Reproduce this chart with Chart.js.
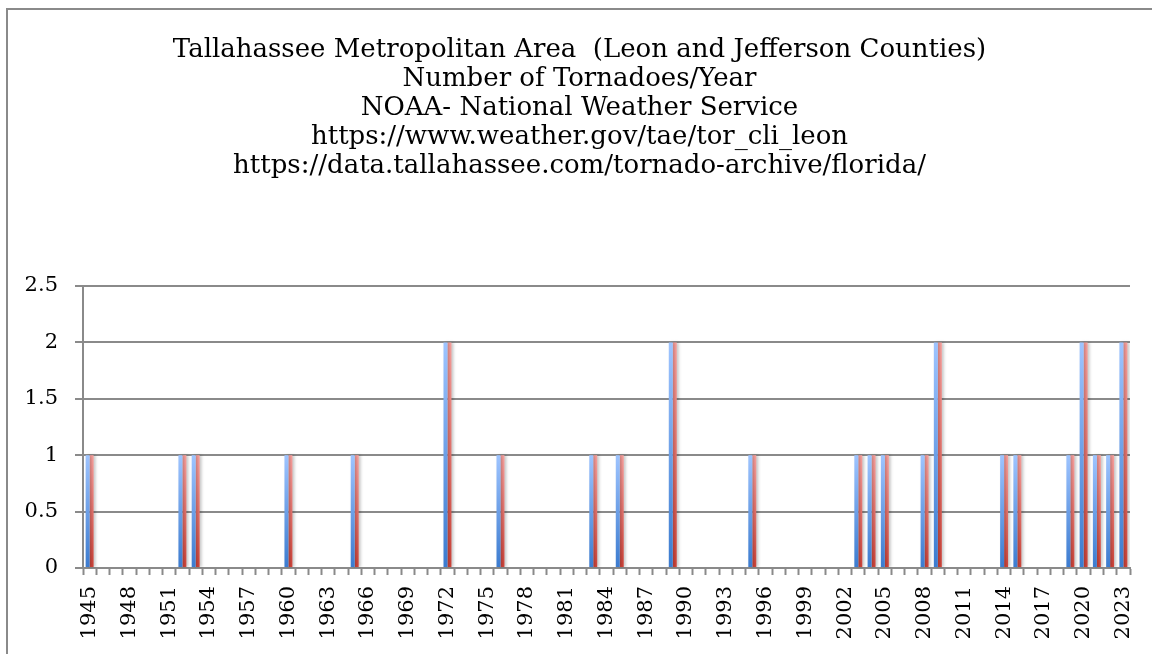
<!DOCTYPE html>
<html>
<head>
<meta charset="utf-8">
<script src="https://cdn.jsdelivr.net/npm/chart.js@4/dist/chart.umd.min.js"></script>
<style>
  html, body { margin: 0; padding: 0; background: #fff; }
  #wrap { width: 1152px; height: 654px; position: relative; }
</style>
</head>
<body>
<div id="wrap"><canvas id="c" width="1152" height="654"></canvas></div>
<script>
// Years on the category axis
const years = [
  '1945','1946','1947','1948','1949',
  '1950','1951','1952','1953','1954','1955','1956','1957','1958','1959',
  '1960','1961','1962','1963','1964','1965','1966','1967','1968','1969',
  '1970','1971','1972','1973','1974','1975','1976','1977','1978','1979',
  '1980','1981','1982','1983','1984','1985','1986','1987','1988','1989',
  '1990','1991','1992','1993','1994','1995','1996','1997','1998','1999',
  '2000','2001','2002','2003','2004','2005','2006','2007','2008','2009',
  '2010','2011','2012','2013','2014','2015','2016','2017','2018','2019',
  '2020','2021','2022','2023'
];

// Tornado counts per year (two columns of the worksheet)
const tornadoesBlue = [
  1,0,0,0,0,
  0,0,1,1,0,0,0,0,0,0,
  1,0,0,0,0,1,0,0,0,0,
  0,0,2,0,0,0,1,0,0,0,
  0,0,0,1,0,1,0,0,0,2,
  0,0,0,0,0,1,0,0,0,0,
  0,0,0,1,1,1,0,0,1,2,
  0,0,0,0,1,1,0,0,0,1,
  2,1,1,2
];
const tornadoesRed = [
  1,0,0,0,0,
  0,0,1,1,0,0,0,0,0,0,
  1,0,0,0,0,1,0,0,0,0,
  0,0,2,0,0,0,1,0,0,0,
  0,0,0,1,0,1,0,0,0,2,
  0,0,0,0,0,1,0,0,0,0,
  0,0,0,1,1,1,0,0,1,2,
  0,0,0,0,1,1,0,0,0,1,
  2,1,1,2
];

const yTicks = [0, 0.5, 1, 1.5, 2, 2.5];

const titleLines = [
  'Tallahassee Metropolitan Area  (Leon and Jefferson Counties)',
  'Number of Tornadoes/Year',
  'NOAA- National Weather Service',
  'https://www.weather.gov/tae/tor_cli_leon',
  'https://data.tallahassee.com/tornado-archive/florida/'
];

const FONT = "'DejaVu Serif', serif";

// vertical gradient per bar, light at the top and deep at the base
function barGradient(top, bottom) {
  return function (ctx) {
    const chart = ctx.chart;
    if (!chart.chartArea || ctx.parsed == null) return bottom;
    const ys = chart.scales.y;
    const yTop = ys.getPixelForValue(ctx.parsed.y);
    const yBase = ys.getPixelForValue(0);
    if (!(yBase > yTop)) return bottom;
    const g = chart.ctx.createLinearGradient(0, yTop, 0, yBase);
    g.addColorStop(0, top);
    g.addColorStop(1, bottom);
    return g;
  };
}

// outer frame of the chart object
const framePlugin = {
  id: 'frame',
  beforeDraw(chart) {
    const c = chart.ctx;
    c.save();
    c.strokeStyle = '#8a8a8a';
    c.lineWidth = 2;
    c.strokeRect(7, 9, 1300, 800);
    c.restore();
  }
};

// soft drop shadow behind the bars
const shadowPlugin = {
  id: 'barShadow',
  beforeDatasetsDraw(chart) {
    const c = chart.ctx;
    c.save();
    c.shadowColor = 'rgba(0,0,0,0.22)';
    c.shadowBlur = 3;
    c.shadowOffsetX = 2;
    c.shadowOffsetY = 0;
  },
  afterDatasetsDraw(chart) {
    chart.ctx.restore();
  }
};

new Chart(document.getElementById('c'), {
  type: 'bar',
  data: {
    labels: years,
    datasets: [
      {
        label: 'Series 1',
        data: tornadoesBlue,
        backgroundColor: barGradient('#9ec4ff', '#3b7bcf'),
        borderWidth: 0
      },
      {
        label: 'Series 2',
        data: tornadoesRed,
        backgroundColor: barGradient('#ffa3a0', '#d2443a'),
        borderWidth: 0
      }
    ]
  },
  options: {
    responsive: false,
    animation: false,
    devicePixelRatio: 1,
    categoryPercentage: 0.6,
    barPercentage: 1.0,
    layout: { padding: { left: 7, right: 0, top: 0, bottom: 0 } },
    plugins: {
      legend: { display: false },
      tooltip: { enabled: false },
      title: {
        display: true,
        text: titleLines,
        color: '#000',
        font: { family: FONT, size: 26, weight: 'normal', lineHeight: 29 / 26 },
        padding: { top: 36, bottom: 105 }
      }
    },
    scales: {
      x: {
        type: 'category',
        offset: true,
        grid: {
          offset: true,
          drawOnChartArea: false,
          drawTicks: true,
          tickLength: 7,
          tickWidth: 2,
          tickColor: '#8a8a8a'
        },
        border: { display: true, color: '#8a8a8a', width: 2 },
        ticks: {
          autoSkip: false,
          maxRotation: 90,
          minRotation: 90,
          padding: 11,
          color: '#000',
          font: { family: FONT, size: 21 },
          callback: function (v, i) { return i % 3 === 0 ? years[i] : ''; }
        },
        afterFit: function (s) {
          s.height = 86;
          s.paddingLeft = 0;
          s.paddingRight = 0;
        }
      },
      y: {
        min: 0,
        max: 2.5,
        afterBuildTicks: function (s) { s.ticks = yTicks.map(v => ({ value: v })); },
        grid: {
          color: '#8a8a8a',
          lineWidth: 2,
          drawTicks: true,
          tickLength: 8
        },
        border: { display: true, color: '#8a8a8a', width: 2 },
        ticks: {
          padding: 17,
          color: '#000',
          font: { family: FONT, size: 21 },
          callback: function (v) { return String(v); }
        },
        afterFit: function (s) { s.width = 76; }
      },
      // empty right-hand margin so the plot stops short of the frame
      margin: {
        type: 'linear',
        position: 'right',
        grid: { display: false, drawTicks: false },
        border: { display: false },
        ticks: { display: false },
        afterFit: function (s) { s.width = 22; }
      }
    }
  },
  plugins: [framePlugin, shadowPlugin]
});
</script>
</body>
</html>
